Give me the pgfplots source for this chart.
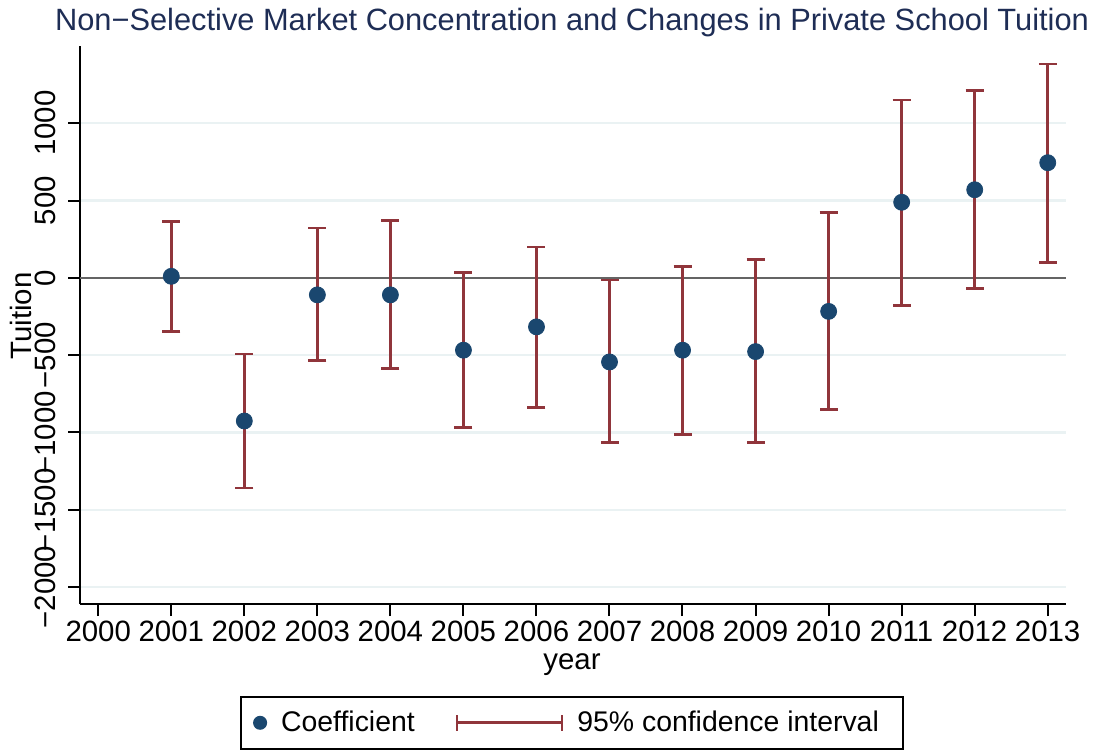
\documentclass[border=0pt]{standalone}
\usepackage{fontspec}
\setmainfont{Liberation Sans}
\usepackage{pgfplots}
\usepackage{pgfplotstable}
\pgfplotsset{compat=1.18}

\definecolor{navy}{RGB}{26,71,111}
\definecolor{maroon}{RGB}{144,53,59}
\definecolor{gridc}{RGB}{234,242,243}
\definecolor{zeroc}{RGB}{100,100,100}
\definecolor{titlec}{RGB}{30,45,85}

% year, point estimate, lower and upper 95% bounds
\pgfplotstableread{
year coef lo hi
2001 10 -348 363
2002 -926 -1360 -492
2003 -110 -535 322
2004 -110 -587 370
2005 -468 -967 33
2006 -317 -838 200
2007 -544 -1067 -14
2008 -468 -1012 76
2009 -477 -1067 119
2010 -217 -854 422
2011 489 -177 1150
2012 570 -67 1210
2013 745 100 1384
}\coefs

\newcommand{\lab}{\fontsize{14.7}{17}\selectfont}
\newcommand{\leg}{\fontsize{14.2}{17}\selectfont}
\newcommand{\ttl}{\fontsize{15.4}{18}\selectfont}

\begin{document}
\begin{tikzpicture}
\begin{axis}[
  name=ax,
  scale only axis,
  width=493pt, height=279pt,
  xmin=1999.75, xmax=2013.25,
  ymin=-2110, ymax=1500,
  axis x line*=bottom, axis y line*=left,
  axis line style={line width=1pt, black},
  tick align=outside,
  major tick length=6pt,
  tick style={line width=1pt, black},
  xtick={2000,...,2013},
  xticklabels={2000,2001,2002,2003,2004,2005,2006,2007,2008,2009,2010,2011,2012,2013},
  ytick={-2000,-1500,-1000,-500,0,500,1000},
  yticklabels={−2000,−1500,−1000,−500,0,500,1000},
  tick label style={font=\lab},
  yticklabel style={rotate=90, anchor=south},
  yticklabel shift=2.5pt,
  xticklabel shift=-1pt,
  ymajorgrids,
  grid style={gridc, line width=1.2pt},
  title={Non−Selective Market Concentration and Changes in Private School Tuition},
  every axis title/.style={font=\ttl, color=titlec, at={(axis description cs:0.499,1.0269)}, anchor=base},
  xlabel={year},
  xlabel style={font=\lab, at={(axis description cs:0.499,-0.1165)}, anchor=base},
  ylabel={Tuition},
  ylabel style={font=\lab, at={(axis description cs:-0.0487,0.516)}, anchor=base},
  legend columns=2,
  legend style={at={(axis description cs:0.499,0)}, anchor=north, yshift=-46pt,
    draw=black, line width=1pt, font=\leg, inner xsep=6pt, inner ysep=5pt},
  legend cell align=left,
]
\addlegendimage{legend image code/.code={\fill[navy] (0pt,0pt) circle (3pt);}}
\addlegendentry{\rule{5pt}{0pt}Coefficient\rule{18.5pt}{0pt}}
\addlegendimage{legend image code/.code={
  \draw[maroon, line width=1.3pt] (0pt,0pt) -- (52.5pt,0pt);
  \draw[maroon, line width=1.3pt] (0pt,-4pt) -- (0pt,4pt);
  \draw[maroon, line width=1.3pt] (52.5pt,-4pt) -- (52.5pt,4pt);}}
\addlegendentry{\rule{5pt}{0pt}95\% confidence interval\rule{4pt}{0pt}}

% reference line at zero
\addplot[zeroc, line width=0.7pt, forget plot] coordinates {(1999.75,0) (2013.25,0)};

% confidence intervals
\addplot[draw=none, mark=none, forget plot,
  error bars/.cd, y dir=both, y explicit,
  error bar style={line width=1.4pt, maroon},
  error mark options={rotate=90, line width=1.4pt, maroon, mark size=4.5pt}]
  table[x=year, y=coef,
        y error plus expr=\thisrow{hi}-\thisrow{coef},
        y error minus expr=\thisrow{coef}-\thisrow{lo}] {\coefs};

% point estimates
\addplot[only marks, mark=*, mark size=4pt, navy, mark options={draw=navy, fill=navy}, forget plot]
  table[x=year, y=coef] {\coefs};
\end{axis}
\pgfresetboundingbox
\path[use as bounding box] (ax.south west) ++(-40pt,-73.5pt) rectangle ++(548.5pt,375.5pt);
\end{tikzpicture}
\end{document}
